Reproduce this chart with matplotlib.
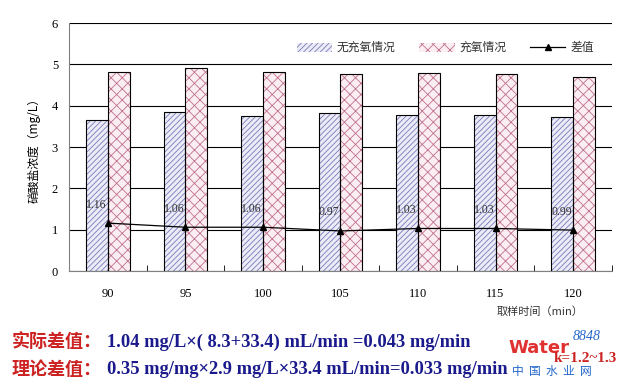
import numpy as np
import matplotlib
matplotlib.use("Agg")
import matplotlib.pyplot as plt

plt.rcParams['font.family'] = ['Liberation Serif', 'Noto Sans CJK SC', 'DejaVu Sans']
plt.rcParams['hatch.linewidth'] = 0.6

times = ["90", "95", "100", "105", "110", "115", "120"]
no_oxygen = [3.65, 3.85, 3.75, 3.82, 3.77, 3.77, 3.73]
oxygen = [4.82, 4.92, 4.82, 4.78, 4.80, 4.78, 4.70]
diff = [1.16, 1.06, 1.06, 0.97, 1.03, 1.03, 0.99]
diff_labels = ["1.16", "1.06", "1.06", "0.97", "1.03", "1.03", "0.99"]

fig = plt.figure(figsize=(6.4, 3.85), dpi=100)
ax = fig.add_axes([0.108, 0.296, 0.848, 0.644])

x = np.arange(len(times))
w = 0.28
b1 = ax.bar(x - w / 2, no_oxygen, w, facecolor="#ececf8", edgecolor="#7a7ab8", hatch="//////",
            linewidth=0, zorder=2, label="无充氧情况")
ax.bar(x - w / 2, no_oxygen, w, facecolor="none", edgecolor="black", linewidth=0.8, zorder=3)
b2 = ax.bar(x + w / 2, oxygen, w, facecolor="#fbeef2", edgecolor="#c07090", hatch="xxx",
            linewidth=0, zorder=2, label="充氧情况")
ax.bar(x + w / 2, oxygen, w, facecolor="none", edgecolor="black", linewidth=0.8, zorder=3)
ln, = ax.plot(x, diff, color="black", lw=0.9, marker="^", markersize=5, zorder=4, label="差值")

for xi, d, lab in zip(x, diff, diff_labels):
    ax.text(xi - 0.15, d + 0.45, lab, ha="center", va="center", fontsize=8.5, color="#333333", zorder=5)

ax.set_ylim(0, 6)
ax.set_xlim(-0.5, len(times) - 0.5)
ax.set_yticks(range(7))
ax.set_xticks(x)
ax.set_xticklabels(times)
ax.set_xticks(np.arange(-0.5, len(times)), minor=True)
ax.tick_params(axis="x", which="major", length=0, pad=12, labelsize=9)
ax.tick_params(axis="x", which="minor", length=4, direction="in")
ax.tick_params(axis="y", length=0, labelsize=9, pad=8)
ax.grid(axis="y", color="black", lw=0.8, zorder=1)
ax.set_axisbelow(True)
for s in ["top", "right"]:
    ax.spines[s].set_visible(False)
ax.spines["left"].set_color("#808080")
ax.spines["bottom"].set_color("#808080")

ax.set_ylabel("硝酸盐浓度（mg/L）", fontsize=8.5, family=['Noto Sans CJK SC'], labelpad=8)
fig.text(0.776, 0.19, "取样时间（min）", fontsize=8, family=['Noto Sans CJK SC'], color="#333333",
         va="center")

leg = ax.legend([b1, b2, ln], ["无充氧情况", "充氧情况", "差值"], loc="upper left",
                bbox_to_anchor=(0.40, 0.97), ncol=3, frameon=False,
                prop={'family': 'Noto Sans CJK SC', 'size': 8.5}, handlelength=3.0,
                handleheight=0.8, columnspacing=2.0, handletextpad=0.4)
for t in leg.get_texts():
    t.set_color("#333333")

blue = "#1a1a8c"
red = "#cc2222"
y1, y2 = 0.112, 0.040
fig.text(0.018, y1, "实际差值：", color=red, fontsize=13, weight="bold",
         family=['Noto Sans CJK SC'], va="center")
fig.text(0.167, y1, "1.04 mg/L×( 8.3+33.4) mL/min =0.043 mg/min", color=blue, fontsize=13.3,
         weight="bold", va="center")
fig.text(0.018, y2, "理论差值：", color=red, fontsize=13, weight="bold",
         family=['Noto Sans CJK SC'], va="center")
fig.text(0.167, y2, "0.35 mg/mg×2.9 mg/L×33.4 mL/min=0.033 mg/min", color=blue, fontsize=13.3,
         weight="bold", va="center")

fig.text(0.795, 0.095, "Water", color="#e03030", fontsize=13, weight="bold",
         family=['DejaVu Sans'], va="center")
fig.text(0.895, 0.125, "8848", color="#2266cc", fontsize=10, style="italic", va="center")
fig.text(0.80, 0.035, "中  国  水  业  网", color="#2266cc", fontsize=8.5,
         family=['Noto Sans CJK SC'], va="center")
fig.text(0.865, 0.068, "k=1.2~1.3", color="#cc2222", fontsize=11, weight="bold", va="center")

fig.savefig("out.png", dpi=100)
